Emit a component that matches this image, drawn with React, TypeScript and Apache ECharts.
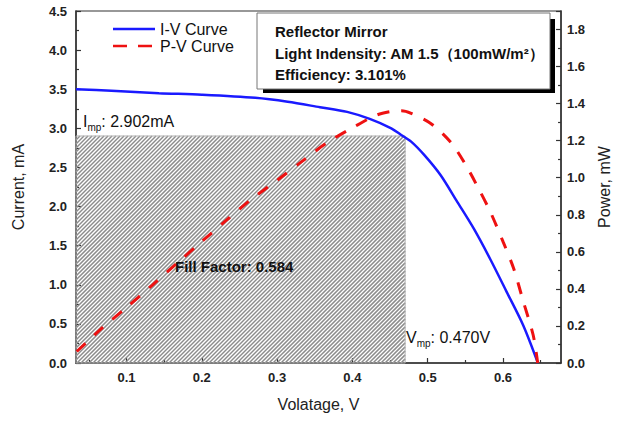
import React, { useEffect, useRef } from "react";
import * as echarts from "echarts";

// ---- data ----
const voltageIV = [0.033, 0.08, 0.143, 0.2, 0.271, 0.314, 0.357, 0.393, 0.423, 0.4516, 0.4648, 0.478, 0.4953, 0.5172, 0.5392, 0.561, 0.5829, 0.6048, 0.6266, 0.6463];
const currentIV = [3.5, 3.48, 3.45, 3.43, 3.39, 3.34, 3.27, 3.21, 3.12, 3.0, 2.915, 2.83, 2.66, 2.4, 2.06, 1.72, 1.33, 0.91, 0.486, 0.0];

const voltagePV = [0.034, 0.066, 0.099, 0.134, 0.167, 0.2, 0.232, 0.265, 0.301, 0.334, 0.366, 0.402, 0.432, 0.452, 0.465, 0.478, 0.504, 0.53, 0.548, 0.565, 0.583, 0.6, 0.614, 0.627, 0.64, 0.646];
const powerPV = [0.062, 0.183, 0.296, 0.419, 0.538, 0.656, 0.768, 0.881, 0.989, 1.091, 1.188, 1.274, 1.338, 1.358, 1.362, 1.348, 1.293, 1.194, 1.086, 0.961, 0.817, 0.655, 0.511, 0.331, 0.151, 0.0];

const seriesNames = ["I-V Curve", "P-V Curve"];
const xMajorTicks = [0.1, 0.2, 0.3, 0.4, 0.5, 0.6];
const xMinorTicks = [0.05, 0.15, 0.25, 0.35, 0.45, 0.55, 0.65];
const xMin = 0.033;
const xMax = 0.677;

const vmp = 0.47;
const imp = 2.902;
const fillFactor = 0.584;
const infoLines = ["Reflector Mirror", "Light Indensity: AM 1.5（100mW/m²）", "Efficiency: 3.101%"];

const FONT = '"Liberation Sans", Arial, Helvetica, sans-serif';
const AX = "#222";
const BLUE = "#1a1aff";
const RED = "#ee1111";

export default function App() {
  const ref = useRef<HTMLDivElement>(null);
  useEffect(() => {
    if (!ref.current) return;
    const chart = echarts.init(ref.current, null, { renderer: "svg" });

    const ivData = voltageIV.map((v, i) => [v, currentIV[i]]);
    const pvData = voltagePV.map((v, i) => [v, powerPV[i]]);

    const hatchRender = (params: any, api: any) => {
      const tr = api.coord([api.value(0), api.value(1)]);
      const bl = api.coord([xMin, 0]);
      const x0 = bl[0], y1 = bl[1], x1 = tr[0], y0 = tr[1];
      const children: any[] = [];
      const step = 4;
      for (let c = x0 + y0; c <= x1 + y1; c += step) {
        const xa = Math.max(x0, c - y1);
        const xb = Math.min(x1, c - y0);
        if (xb <= xa) continue;
        children.push({
          type: "line",
          shape: { x1: xa, y1: c - xa, x2: xb, y2: c - xb },
          style: { stroke: "#8c8c8c", lineWidth: 1.5 },
          silent: true,
        });
      }
      children.push({
        type: "rect",
        shape: { x: x0, y: y0, width: x1 - x0, height: y1 - y0 },
        style: { fill: "none", stroke: "#b0b0b0", lineWidth: 1 },
        silent: true,
      });
      return { type: "group", children };
    };

    const tickStyle = { color: "#333", width: 1.2 };

    const option: any = {
      animation: false,
      backgroundColor: "#fff",
      textStyle: { fontFamily: FONT },
      grid: { left: 76, right: 53, top: 11, bottom: 60, show: true, borderColor: "#333", borderWidth: 1.2, backgroundColor: "transparent" },
      xAxis: [
        {
          type: "value",
          min: xMin,
          max: xMax,
          position: "bottom",
          name: "Volatage, V",
          nameLocation: "middle",
          nameGap: 33,
          nameTextStyle: { fontSize: 16, color: AX, fontFamily: FONT },
          axisLine: { show: true, onZero: false, lineStyle: { color: "#333", width: 1.5 } },
          axisTick: { show: true, inside: true, length: 5, customValues: xMajorTicks, lineStyle: tickStyle },
          axisLabel: { customValues: xMajorTicks, formatter: (v: number) => v.toFixed(1), fontWeight: "bold", fontSize: 13, color: AX, margin: 8, fontFamily: FONT },
          splitLine: { show: false },
        },
        {
          type: "value",
          min: xMin,
          max: xMax,
          position: "bottom",
          axisLine: { show: false, onZero: false },
          axisTick: { show: true, inside: true, length: 3, customValues: xMinorTicks, lineStyle: tickStyle },
          axisLabel: { show: false },
          splitLine: { show: false },
        },
      ],
      yAxis: [
        {
          type: "value",
          min: 0,
          max: 4.5,
          interval: 0.5,
          position: "left",
          name: "Current, mA",
          nameLocation: "middle",
          nameGap: 50,
          nameTextStyle: { fontSize: 16, color: AX, fontFamily: FONT },
          axisLine: { show: true, lineStyle: { color: "#333", width: 1.5 } },
          axisTick: { show: true, inside: true, length: 5, lineStyle: tickStyle },
          minorTick: { show: true, splitNumber: 2, length: 3, lineStyle: tickStyle },
          axisLabel: { formatter: (v: number) => v.toFixed(1), fontWeight: "bold", fontSize: 13, color: AX, margin: 9, fontFamily: FONT },
          splitLine: { show: false },
        },
        {
          type: "value",
          min: 0,
          max: 1.9,
          interval: 0.2,
          position: "right",
          name: "Power, mW",
          nameLocation: "middle",
          nameGap: 31,
          nameTextStyle: { fontSize: 16, color: AX, fontFamily: FONT },
          axisLine: { show: true, lineStyle: { color: "#333", width: 1.5 } },
          axisTick: { show: true, inside: true, length: 5, lineStyle: tickStyle },
          minorTick: { show: true, splitNumber: 2, length: 3, lineStyle: tickStyle },
          axisLabel: { formatter: (v: number) => v.toFixed(1), fontWeight: "bold", fontSize: 13, color: AX, margin: 6, showMaxLabel: false, fontFamily: FONT },
          splitLine: { show: false },
        },
      ],
      series: [
        {
          type: "custom",
          name: "hatch",
          xAxisIndex: 0,
          yAxisIndex: 0,
          renderItem: hatchRender,
          data: [[vmp, imp]],
          z: 1,
          silent: true,
        },
        {
          type: "line",
          name: seriesNames[0],
          xAxisIndex: 0,
          yAxisIndex: 0,
          data: ivData,
          showSymbol: false,
          symbol: "none",
          smooth: 0.3,
          lineStyle: { color: BLUE, width: 2.5 },
          itemStyle: { color: BLUE },
          z: 3,
        },
        {
          type: "line",
          name: seriesNames[1],
          xAxisIndex: 0,
          yAxisIndex: 1,
          data: pvData,
          showSymbol: false,
          symbol: "none",
          smooth: 0.3,
          lineStyle: { color: RED, width: 3, type: [12, 12] },
          itemStyle: { color: RED },
          z: 3,
        },
      ],
      graphic: [
        // legend
        { type: "line", shape: { x1: 113, y1: 29, x2: 155, y2: 29 }, style: { stroke: BLUE, lineWidth: 2.5 }, z: 12 },
        { type: "text", x: 160, y: 29, style: { text: seriesNames[0], fontSize: 16, fill: "#111", fontFamily: FONT, verticalAlign: "middle" }, z: 12 },
        { type: "line", shape: { x1: 113, y1: 46, x2: 155, y2: 46 }, style: { stroke: RED, lineWidth: 2.5, lineDash: [14, 11] }, z: 12 },
        { type: "text", x: 160, y: 46, style: { text: seriesNames[1], fontSize: 16, fill: "#111", fontFamily: FONT, verticalAlign: "middle" }, z: 12 },
        // info box
        { type: "rect", shape: { x: 263, y: 19, width: 292, height: 74 }, style: { fill: "#000" }, z: 10 },
        { type: "rect", shape: { x: 257, y: 13, width: 293, height: 76 }, style: { fill: "#fff", stroke: "#777", lineWidth: 1 }, z: 11 },
        { type: "text", x: 275, y: 31, style: { text: infoLines[0], fontSize: 15, fontWeight: "bold", fill: "#111", fontFamily: FONT, verticalAlign: "middle" }, z: 12 },
        { type: "text", x: 275, y: 53, style: { text: infoLines[1], fontSize: 15, fontWeight: "bold", fill: "#111", fontFamily: FONT, verticalAlign: "middle" }, z: 12 },
        { type: "text", x: 275, y: 74, style: { text: infoLines[2], fontSize: 15, fontWeight: "bold", fill: "#111", fontFamily: FONT, verticalAlign: "middle" }, z: 12 },
        {
          type: "text",
          x: 83,
          y: 110,
          style: {
            text: `{i|I}{s|mp}{i|: ${imp.toFixed(3)}mA}`,
            fontFamily: FONT,
            rich: {
              i: { fontSize: 16, lineHeight: 22, fill: "#111", fontFamily: FONT },
              s: { fontSize: 10, lineHeight: 10, verticalAlign: "bottom", fill: "#111", fontFamily: FONT },
            },
          },
          z: 12,
        },
        {
          type: "text",
          x: 406,
          y: 326,
          style: {
            text: `{i|V}{s|mp}{i|: ${vmp.toFixed(3)}V}`,
            fontFamily: FONT,
            rich: {
              i: { fontSize: 16, lineHeight: 22, fill: "#111", fontFamily: FONT },
              s: { fontSize: 10, lineHeight: 10, verticalAlign: "bottom", fill: "#111", fontFamily: FONT },
            },
          },
          z: 12,
        },
        { type: "text", x: 175, y: 266, style: { text: `Fill Factor: ${fillFactor.toFixed(3)}`, fontSize: 15, fontWeight: "bold", fill: "#111", fontFamily: FONT, verticalAlign: "middle" }, z: 12 },
      ],
    };
    chart.setOption(option);
    return () => chart.dispose();
  }, []);
  return <div ref={ref} style={{ position: "fixed", left: 0, top: 0, width: 620, height: 423 }} />;
}
